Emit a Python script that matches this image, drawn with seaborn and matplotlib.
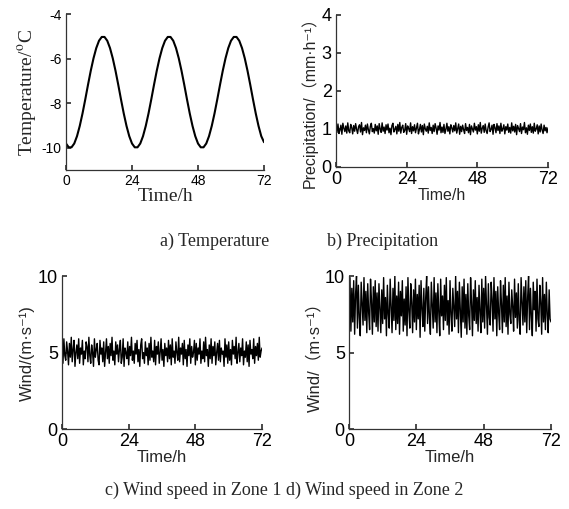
import numpy as np
import matplotlib
matplotlib.use("Agg")
import matplotlib.pyplot as plt
import seaborn as sns

# hourly temperature
temperature = [-9.81, -9.98, -9.98, -9.81, -9.48, -9.02, -8.46, -7.83, -7.17, -6.54, -5.98, -5.52,
               -5.19, -5.02, -5.02, -5.19, -5.52, -5.98, -6.54, -7.17, -7.83, -8.46, -9.02, -9.48,
               -9.81, -9.98, -9.98, -9.81, -9.48, -9.02, -8.46, -7.83, -7.17, -6.54, -5.98, -5.52,
               -5.19, -5.02, -5.02, -5.19, -5.52, -5.98, -6.54, -7.17, -7.83, -8.46, -9.02, -9.48,
               -9.81, -9.98, -9.98, -9.81, -9.48, -9.02, -8.46, -7.83, -7.17, -6.54, -5.98, -5.52,
               -5.19, -5.02, -5.02, -5.19, -5.52, -5.98, -6.54, -7.17, -7.83, -8.46, -9.02, -9.48,
               -9.75]

# precipitation every 20 min, mm/h
precipitation = [1.05, 0.91, 1.13, 0.88, 0.97, 1.10, 0.86, 1.15, 1.02, 0.93, 1.08, 0.89, 1.16, 0.95, 0.90, 1.12, 1.04, 0.87, 1.09, 0.94,
                 1.14, 0.99, 0.88, 1.06, 1.11, 0.92, 1.17, 0.85, 1.03, 0.96, 1.10, 0.90, 1.13, 0.98, 0.87, 1.07, 1.15, 0.93, 1.01, 0.89,
                 1.12, 0.95, 1.08, 0.86, 1.14, 1.00, 0.91, 1.16, 0.94, 1.05, 0.88, 1.11, 0.97, 1.13, 0.90, 1.02, 0.85, 1.09, 1.15, 0.92,
                 0.99, 1.07, 0.87, 1.12, 0.94, 1.17, 0.89, 1.04, 1.10, 0.91, 0.96, 1.14, 0.86, 1.08, 1.01, 0.93, 1.16, 0.88, 1.06, 0.95,
                 1.11, 0.90, 1.03, 1.15, 0.87, 0.98, 1.12, 0.92, 1.09, 0.85, 1.13, 1.00, 0.94, 1.07, 0.89, 1.16, 0.96, 1.04, 0.88, 1.10,
                 0.93, 1.14, 1.02, 0.86, 1.08, 0.97, 1.17, 0.90, 1.05, 0.91, 1.12, 0.88, 0.99, 1.15, 0.94, 1.06, 0.87, 1.11, 1.03, 0.92,
                 1.09, 0.95, 1.16, 0.89, 1.01, 1.13, 0.86, 1.07, 0.93, 1.10, 0.98, 0.88, 1.14, 0.96, 1.04, 0.90, 1.12, 0.85, 1.08, 1.00,
                 0.92, 1.15, 0.97, 1.06, 0.87, 1.11, 0.94, 1.17, 0.89, 1.02, 1.09, 0.91, 1.13, 0.95, 0.88, 1.05, 1.16, 0.93, 0.99, 1.10,
                 0.86, 1.12, 1.03, 0.90, 1.14, 0.96, 1.08, 0.88, 1.15, 0.94, 1.00, 1.11, 0.87, 1.06, 0.97, 1.13, 0.91, 1.04, 0.89, 1.16,
                 0.95, 1.07, 0.92, 1.12, 0.85, 1.09, 1.01, 0.93, 1.14, 0.88, 1.05, 0.98, 1.17, 0.90, 1.03, 0.86, 1.10, 0.96, 1.13, 0.91,
                 1.06, 0.89, 1.15, 0.94, 1.00, 1.11, 0.87, 1.08, 0.92, 1.13, 0.97, 0.88, 1.10, 0.95, 1.04, 0.90, 1.03]

# wind speed every 20 min, m/s
wind_zone1 = [5.4, 4.3, 5.9, 4.8, 4.5, 5.7, 5.1, 4.2, 5.6, 4.7, 6.0, 4.4, 5.2, 5.8, 4.1, 5.0, 5.5, 4.6, 5.9, 4.3,
              5.3, 4.9, 5.8, 4.2, 5.1, 4.6, 5.7, 5.4, 4.4, 6.0, 4.8, 4.3, 5.5, 5.0, 4.1, 5.9, 4.7, 5.2, 5.6, 4.5,
              4.2, 5.8, 4.9, 5.3, 4.4, 5.7, 4.1, 5.0, 5.9, 4.6, 5.4, 4.3, 5.6, 4.8, 6.0, 4.5, 5.1, 4.2, 5.7, 4.9,
              5.5, 4.4, 5.2, 5.8, 4.3, 4.7, 5.9, 4.1, 5.3, 5.0, 4.6, 5.7, 4.2, 5.4, 4.8, 6.0, 4.5, 5.1, 4.3, 5.6,
              4.9, 5.8, 4.4, 5.2, 4.1, 5.5, 5.9, 4.6, 5.0, 4.3, 5.7, 4.8, 5.3, 4.2, 5.6, 4.5, 6.0, 4.7, 5.1, 4.4,
              5.8, 4.2, 5.4, 4.9, 5.7, 4.3, 5.0, 5.9, 4.5, 5.2, 4.1, 5.6, 4.8, 5.3, 4.4, 5.8, 4.6, 5.5, 4.2, 5.9,
              4.7, 5.1, 4.3, 5.7, 5.0, 4.5, 6.0, 4.4, 5.3, 4.9, 5.6, 4.2, 5.8, 4.6, 5.2, 4.1, 5.5, 4.8, 5.9, 4.3,
              5.4, 4.7, 5.0, 5.8, 4.2, 5.6, 4.5, 5.3, 4.9, 5.9, 4.3, 5.1, 4.6, 5.7, 4.4, 6.0, 4.8, 5.2, 4.1, 5.5,
              4.6, 5.9, 4.3, 5.4, 4.8, 5.7, 4.2, 5.0, 5.6, 4.5, 5.8, 4.4, 5.3, 4.9, 5.1, 4.1, 5.9, 4.7, 5.5, 4.3,
              5.7, 4.5, 5.2, 4.2, 5.8, 4.9, 5.4, 4.6, 6.0, 4.3, 5.0, 5.6, 4.4, 5.3, 4.8, 5.9, 4.2, 5.1, 4.7, 5.7,
              4.4, 5.5, 4.1, 5.8, 4.9, 5.2, 4.6, 5.9, 4.3, 5.4, 4.8, 5.6, 4.5, 6.0, 4.7, 5.1, 5.3]

wind_zone2 = [8.1, 9.9, 6.4, 9.2, 7.0, 9.7, 6.2, 8.8, 10.0, 6.6, 9.4, 7.3, 6.1, 9.6, 8.2, 6.8, 9.9, 7.1, 9.0, 6.3,
              9.5, 7.6, 6.5, 9.8, 8.4, 6.2, 9.3, 7.0, 9.7, 6.7, 8.9, 6.4, 9.5, 7.8, 6.3, 9.1, 6.9, 9.9, 7.2, 8.6,
              6.1, 9.4, 7.5, 6.6, 9.8, 8.0, 6.3, 9.2, 7.1, 10.0, 6.5, 8.7, 6.9, 9.6, 6.2, 9.0, 7.4, 9.7, 6.4, 8.5,
              6.8, 9.3, 6.1, 9.9, 7.7, 6.6, 9.5, 8.3, 6.3, 9.1, 7.0, 9.8, 6.5, 8.8, 7.2, 9.4, 6.0, 9.7, 7.9, 6.7,
              9.2, 6.4, 8.6, 10.0, 6.9, 9.3, 7.3, 6.2, 9.6, 8.1, 6.6, 9.9, 7.0, 8.9, 6.3, 9.5, 7.6, 6.1, 9.8, 7.4,
              8.7, 6.5, 9.4, 7.1, 9.9, 6.8, 8.4, 6.2, 9.7, 7.5, 6.4, 9.2, 8.0, 6.7, 10.0, 7.2, 9.0, 6.3, 9.6, 7.8,
              6.0, 9.3, 7.0, 9.8, 6.6, 8.8, 6.2, 9.5, 7.4, 6.5, 9.9, 8.3, 6.1, 9.1, 7.1, 9.7, 6.9, 8.6, 6.4, 9.4,
              7.7, 6.3, 9.8, 7.0, 9.2, 6.6, 10.0, 8.1, 6.2, 9.5, 7.3, 6.8, 9.6, 8.5, 6.4, 9.9, 7.2, 9.0, 6.1, 9.3,
              7.6, 6.5, 9.7, 8.2, 6.3, 9.4, 7.0, 9.9, 6.7, 8.7, 6.2, 9.6, 7.5, 6.9, 9.1, 8.0, 6.4, 9.8, 7.3, 8.9,
              6.6, 9.5, 7.1, 6.2, 9.9, 8.4, 6.8, 9.3, 7.0, 9.7, 6.3, 8.6, 10.0, 6.5, 9.2, 7.4, 6.1, 9.6, 7.8, 9.0,
              6.4, 9.8, 7.2, 6.7, 9.4, 8.3, 6.2, 9.9, 7.0, 8.8, 6.5, 9.6, 7.5, 6.3, 9.1, 7.2, 7.0]

time_ticks = [0, 24, 48, 72]

SANS = ['Liberation Sans', 'DejaVu Sans', 'Noto Sans CJK SC']
SERIF = ['Liberation Serif', 'DejaVu Serif']

sns.set_theme(style='ticks')
plt.rcParams['font.family'] = SANS
plt.rcParams.update({
    'xtick.direction': 'in', 'ytick.direction': 'in',
    'xtick.major.size': 3.5, 'ytick.major.size': 3.5,
    'xtick.major.pad': 3, 'ytick.major.pad': 3,
    'axes.linewidth': 0.9, 'axes.edgecolor': '#333333',
    'xtick.color': '#333333', 'ytick.color': '#333333',
    'xtick.labelcolor': 'black', 'ytick.labelcolor': 'black',
    'axes.unicode_minus': False,
    'mathtext.fontset': 'stix',
})


def panel(fig, rect, values, ylim, yticks, ylabel, lw, label_font, label_size, tick_size):
    ax = fig.add_axes(rect)
    t = np.linspace(0, 72, len(values))
    sns.lineplot(x=t, y=values, ax=ax, color='black', linewidth=lw)
    ax.set_xlim(0, 72)
    ax.set_ylim(*ylim)
    ax.set_xticks(time_ticks)
    ax.set_yticks(yticks)
    ax.tick_params(labelsize=tick_size)
    sns.despine(ax=ax)
    ax.set_xlabel('Time/h', family=label_font, fontsize=label_size, labelpad=0)
    ax.set_ylabel(ylabel, family=label_font, fontsize=label_size, labelpad=2)
    return ax


fig = plt.figure(figsize=(5.69, 5.09), dpi=100)

panel(fig, [0.116, 0.666, 0.348, 0.306], temperature, (-11, -4), [-10, -8, -6, -4],
      'Temperature/$^{\\mathrm{o}}$C', 1.5, SERIF, 14, 10)
ax_b = panel(fig, [0.5905, 0.672, 0.3726, 0.2986], precipitation, (0, 4), [0, 1, 2, 3, 4],
             'Precipitation/（mm·h⁻¹）', 1.0, SANS, 11.5, 13)
ax_b.yaxis.set_label_coords(-0.085, 0.45)
panel(fig, [0.109, 0.157, 0.3515, 0.3006], wind_zone1, (0, 10), [0, 5, 10],
      'Wind/(m·s⁻¹)', 1.0, SANS, 12, 13)
panel(fig, [0.6134, 0.157, 0.355, 0.3006], wind_zone2, (0, 10), [0, 5, 10],
      'Wind/（m·s⁻¹）', 1.0, SANS, 12, 13)

fig.text(160 / 569, 1 - 241 / 509, 'a) Temperature', family=SERIF, fontsize=13, ha='left', va='center')
fig.text(327 / 569, 1 - 241 / 509, 'b) Precipitation', family=SERIF, fontsize=13, ha='left', va='center')
fig.text(105 / 569, 1 - 490 / 509, 'c) Wind speed in Zone 1 d) Wind speed in Zone 2', family=SERIF,
         fontsize=13, ha='left', va='center')

fig.savefig('out.png', dpi=100)
